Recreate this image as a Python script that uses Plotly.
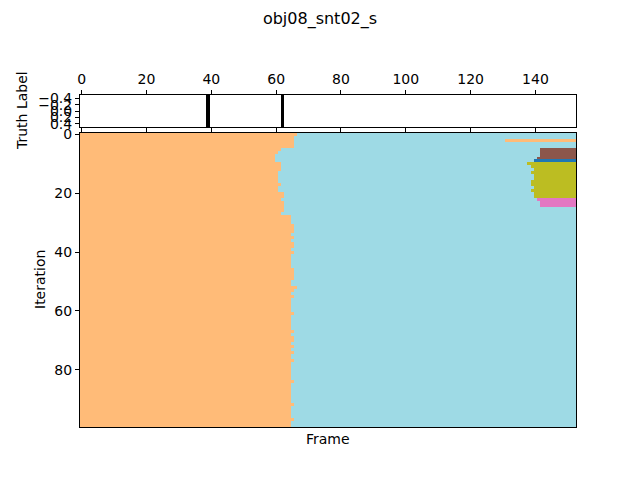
import plotly.graph_objects as go

# ---------------- data ----------------
n_frames = 153
n_iters = 100
title_text = "obj08_snt02_s"

# truth label strip: frames marked as boundaries (black)
truth_boundary_frames = [39, 62]

# first frame that is NOT orange (class "A") for each iteration 0..99
orange_end = [
    67, 66, 66, 66, 66, 62, 61, 60, 60, 60,   # 0-9
    62, 62, 62, 61, 61, 61, 61, 62, 61, 61,   # 10-19
    63, 63, 62, 63, 63, 63, 63, 62, 65, 65,   # 20-29
    65, 66, 66, 66, 65, 66, 65, 66, 66, 65,   # 30-39
    66, 65, 65, 65, 65, 65, 66, 66, 66, 66,   # 40-49
    65, 65, 67, 66, 65, 66, 65, 65, 65, 65,   # 50-59
    65, 66, 65, 65, 65, 65, 65, 66, 65, 66,   # 60-69
    66, 65, 66, 65, 66, 65, 65, 66, 65, 65,   # 70-79
    65, 65, 65, 65, 66, 65, 65, 65, 65, 65,   # 80-89
    65, 65, 66, 65, 65, 65, 65, 66, 65, 65,   # 90-99
]

# extra segments at the end of some iterations: (iteration, start frame, class)
seg_iter = [2, 5, 6, 7, 8, 9,
            10, 11, 12, 13, 14, 15, 16, 17, 18, 19, 20, 21,
            22, 23, 24]
seg_start = [131, 142, 142, 142, 141, 140,
             138, 139, 140, 139, 140, 140, 139, 139, 140, 139, 140, 140,
             141, 142, 142]
seg_class = [1, 2, 2, 2, 2, 3,
             4, 4, 4, 4, 4, 4, 4, 4, 4, 4, 4, 4,
             5, 5, 5]

# class colours: 0 light cyan, 1 light orange, 2 brown, 3 blue, 4 olive, 5 pink
class_colors = ["#9edae5", "#ffbb78", "#8c564b", "#1f77b4", "#bcbd22", "#e377c2"]

x_ticks = [0, 20, 40, 60, 80, 100, 120, 140]
y_ticks = [0, 20, 40, 60, 80]
strip_ticks = [-0.4, -0.2, 0.0, 0.2, 0.4]
strip_ticktext = ["\u22120.4", "\u22120.2", "0.0", "0.2", "0.4"]

# ---------------- build matrices ----------------
frames = list(range(n_frames))
iters = list(range(n_iters))
z = []
for i in iters:
    row = [1 if f < orange_end[i] else 0 for f in frames]
    z.append(row)
for it, st, c in zip(seg_iter, seg_start, seg_class):
    for f in range(st, n_frames):
        z[it][f] = c

truth_row = [[1 if f in truth_boundary_frames else 0 for f in frames]]

ncls = len(class_colors)
cscale = []
for k, col in enumerate(class_colors):
    cscale.append([k / ncls, col])
    cscale.append([(k + 1) / ncls, col])

FONT = "DejaVu Sans"
fig = go.Figure()

fig.add_trace(go.Heatmap(
    z=truth_row, x=frames, y=[0],
    colorscale=[[0, "white"], [1, "black"]], zmin=0, zmax=1,
    showscale=False, xaxis="x", yaxis="y", hoverinfo="skip"))

fig.add_trace(go.Heatmap(
    z=z, x=frames, y=iters,
    colorscale=cscale, zmin=-0.5, zmax=ncls - 0.5,
    showscale=False, xaxis="x2", yaxis="y2"))

W, H = 640, 480
ml, mr, mt, mb = 80, 64, 95, 53
ph = H - mt - mb

axis_common = dict(showline=True, linecolor="black", linewidth=1, mirror=True,
                   showgrid=False, zeroline=False,
                   tickfont=dict(family=FONT, size=14, color="black"),
                   ticks="outside", ticklen=4, tickcolor="black")

fig.update_layout(
    width=W, height=H,
    margin=dict(l=ml, r=mr, t=mt, b=mb),
    paper_bgcolor="white", plot_bgcolor="white",
    font=dict(family=FONT, color="black"),
    title=dict(text=title_text, x=0.5, xanchor="center", y=1 - 18 / H,
               yanchor="middle", font=dict(family=FONT, size=16, color="black")),
    xaxis=dict(domain=[0, 1], anchor="y", side="top", range=[-0.5, n_frames - 0.5],
               tickvals=x_ticks, **{**axis_common, "mirror": "ticks"}),
    yaxis=dict(domain=[1 - 32 / ph, 1], anchor="x", range=[0.5, -0.5],
               tickvals=strip_ticks, ticktext=strip_ticktext, **axis_common),
    xaxis2=dict(domain=[0, 1], anchor="y2", range=[-0.5, n_frames - 0.5],
                showticklabels=False, showline=True, linecolor="black", linewidth=1,
                mirror=True, showgrid=False, zeroline=False, ticks=""),
    yaxis2=dict(domain=[0, 294 / ph], anchor="x2", range=[n_iters - 0.5, -0.5],
                tickvals=y_ticks, **axis_common),
    annotations=[
        dict(text="Truth Label", xref="paper", yref="paper",
             x=(22 - ml) / (W - ml - mr), y=(H - 111 - mb) / ph,
             showarrow=False, textangle=-90, xanchor="center", yanchor="middle",
             font=dict(family=FONT, size=14, color="black")),
        dict(text="Iteration", xref="paper", yref="paper",
             x=(40 - ml) / (W - ml - mr), y=(H - 280 - mb) / ph,
             showarrow=False, textangle=-90, xanchor="center", yanchor="middle",
             font=dict(family=FONT, size=14, color="black")),
        dict(text="Frame", xref="paper", yref="paper",
             x=0.5, y=(H - 439 - mb) / ph,
             showarrow=False, xanchor="center", yanchor="middle",
             font=dict(family=FONT, size=14, color="black")),
    ],
)

fig.write_html("out.html")
